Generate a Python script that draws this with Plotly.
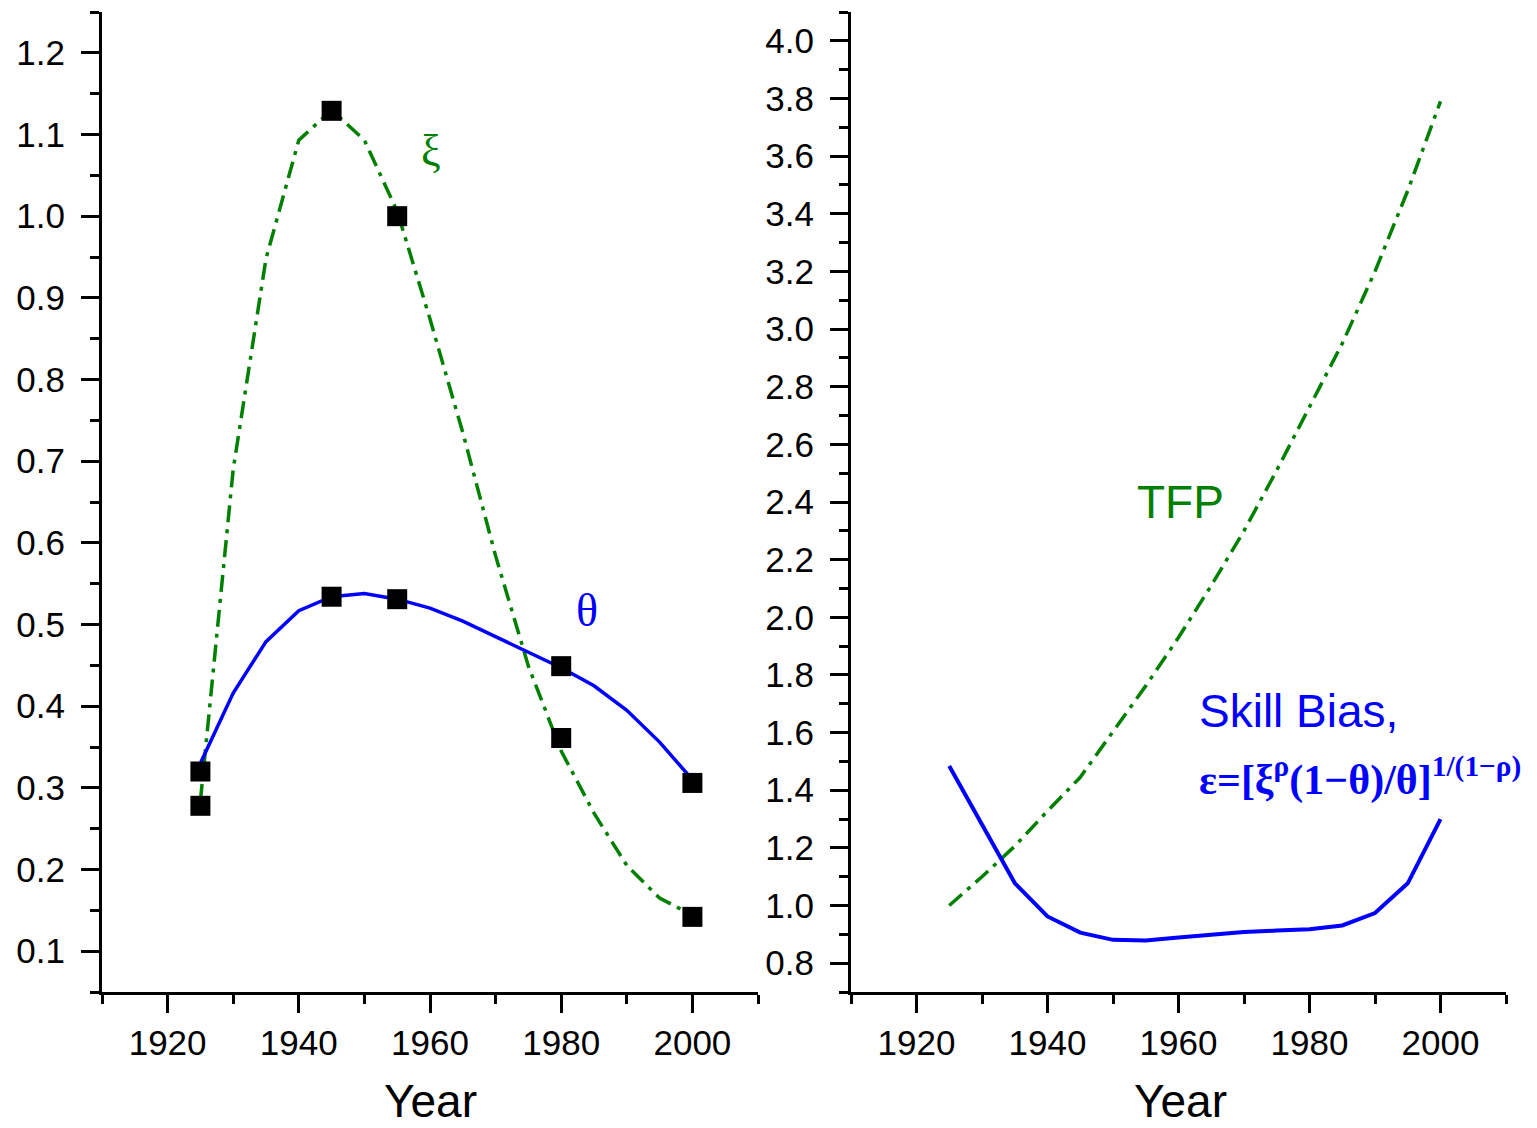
import plotly.graph_objects as go

# ---------------- data ----------------
years = [1925, 1930, 1935, 1940, 1945, 1950, 1955, 1960, 1965, 1970, 1975, 1980, 1985, 1990, 1995, 2000]
theta_fit = [0.33, 0.416, 0.479, 0.517, 0.534, 0.538, 0.531, 0.52, 0.504, 0.485, 0.465, 0.447, 0.425, 0.395, 0.356, 0.31]
xi_fit = [0.284, 0.69, 0.948, 1.093, 1.13, 1.093, 1.006, 0.874, 0.735, 0.584, 0.449, 0.345, 0.269, 0.205, 0.165, 0.144]

data_years = [1925, 1945, 1955, 1980, 2000]
theta_data = [0.32, 0.534, 0.531, 0.449, 0.306]
xi_data = [0.278, 1.129, 1.0, 0.361, 0.142]

tfp = [1.0, 1.10, 1.206, 1.328, 1.445, 1.605, 1.762, 1.93, 2.11, 2.3, 2.51, 2.73, 2.95, 3.2, 3.48, 3.79]
skill_bias = [1.484, 1.28, 1.078, 0.962, 0.906, 0.881, 0.879, 0.889, 0.9, 0.908, 0.913, 0.918, 0.931, 0.974, 1.077, 1.30]

W, H = 1537, 1128
GREEN = "#008000"
BLUE = "#0000FF"
SANS = "Liberation Sans, Arial, sans-serif"
SERIF = "Liberation Serif, Times New Roman, serif"
DASHDOT = "17px,7px,4px,7px"


def px(x):
    return x / W


def py(y):
    return 1 - y / H


fig = go.Figure()

# left panel
fig.add_trace(go.Scatter(x=years, y=xi_fit, mode="lines", xaxis="x", yaxis="y",
                         line=dict(color=GREEN, width=3.5, dash=DASHDOT), showlegend=False))
fig.add_trace(go.Scatter(x=years, y=theta_fit, mode="lines", xaxis="x", yaxis="y",
                         line=dict(color=BLUE, width=3.5), showlegend=False))
fig.add_trace(go.Scatter(x=data_years, y=xi_data, mode="markers", xaxis="x", yaxis="y",
                         marker=dict(symbol="square", size=20, color="black", line=dict(width=0)),
                         showlegend=False))
fig.add_trace(go.Scatter(x=data_years, y=theta_data, mode="markers", xaxis="x", yaxis="y",
                         marker=dict(symbol="square", size=20, color="black", line=dict(width=0)),
                         showlegend=False))

# right panel
fig.add_trace(go.Scatter(x=years, y=tfp, mode="lines", xaxis="x2", yaxis="y2",
                         line=dict(color=GREEN, width=3.5, dash=DASHDOT), showlegend=False))
fig.add_trace(go.Scatter(x=years, y=skill_bias, mode="lines", xaxis="x2", yaxis="y2",
                         line=dict(color=BLUE, width=4), showlegend=False))

tickfont = dict(family=SANS, size=35, color="black")

common_axis = dict(showline=True, linewidth=3, linecolor="black", ticks="outside",
                   ticklen=18, tickwidth=3, tickcolor="black", showgrid=False,
                   zeroline=False, tickfont=tickfont, automargin=False)

xaxis_common = dict(common_axis, range=[1910, 2010], tick0=1920, dtick=20,
                    minor=dict(ticks="outside", ticklen=9, tickwidth=3, tickcolor="black",
                               tick0=1910, dtick=10, showgrid=False))

ydom = [py(992), py(12)]

fig.update_layout(
    width=W, height=H,
    margin=dict(l=0, r=0, t=0, b=0),
    paper_bgcolor="white", plot_bgcolor="white",
    xaxis=dict(xaxis_common, domain=[px(102), px(758)], anchor="y"),
    yaxis=dict(common_axis, domain=ydom, anchor="x", range=[0.05, 1.25],
               tick0=0.1, dtick=0.1, tickformat=".1f", ticklabelstandoff=9,
               minor=dict(ticks="outside", ticklen=9, tickwidth=3, tickcolor="black",
                          tick0=0.05, dtick=0.05, showgrid=False)),
    xaxis2=dict(xaxis_common, domain=[px(851), px(1506)], anchor="y2"),
    yaxis2=dict(common_axis, domain=ydom, anchor="x2", range=[0.7, 4.1],
                tick0=0.8, dtick=0.2, tickformat=".1f", ticklabelstandoff=9,
                minor=dict(ticks="outside", ticklen=9, tickwidth=3, tickcolor="black",
                           tick0=0.7, dtick=0.1, showgrid=False)),
)

annotations = [
    dict(text="ξ", x=px(431), y=py(150), font=dict(family=SERIF, size=44, color=GREEN)),
    dict(text="θ", x=px(587), y=py(610), font=dict(family=SERIF, size=46, color=BLUE)),
    dict(text="TFP", x=px(1180), y=py(502), font=dict(family=SANS, size=46, color=GREEN)),
    dict(text="Skill Bias,", x=px(1197), y=py(711), xanchor="left",
         font=dict(family=SANS, size=46, color=BLUE)),
    dict(text="<b>ε=[ξ<sup>ρ</sup>(1−θ)/θ]<sup>1/(1−ρ)</sup></b>", x=px(1197), y=py(777),
         xanchor="left", font=dict(family=SERIF, size=42, color=BLUE)),
    dict(text="Year", x=px(430), y=py(1101), font=dict(family=SANS, size=46, color="black")),
    dict(text="Year", x=px(1180), y=py(1101), font=dict(family=SANS, size=46, color="black")),
]
for a in annotations:
    a.setdefault("xanchor", "center")
    a.update(xref="paper", yref="paper", yanchor="middle", showarrow=False)
fig.update_layout(annotations=annotations)

fig.write_html("out.html", config={"displayModeBar": False},
               post_script="document.body.style.margin='0';document.body.style.overflow='hidden';")
